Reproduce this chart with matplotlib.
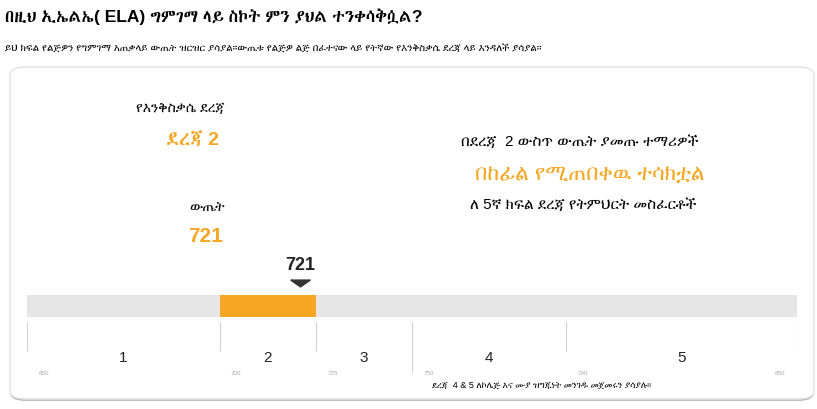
import matplotlib
matplotlib.use("Agg")
import matplotlib.pyplot as plt
from matplotlib.patches import FancyBboxPatch

plt.rcParams["font.family"] = ["Liberation Sans", "DejaVu Sans", "Noto Sans", "FreeSerif", "Abyssinica SIL"]

# data
cut_scores = [650, 700, 725, 750, 790, 850]
level_names = ["1", "2", "3", "4", "5"]
score = 721
student_level = 2

title = "በዚህ ኢኤልኤ( ELA) ግምገማ ላይ ስኮት ምን ያህል ተንቀሳቅሷል?"
subtitle = ("ይህ ክፍል የልጅዎን የግምገማ አጠቃላይ ውጤት ዝርዝር ያሳያል።ውጤቱ የልጅዎ ልጅ "
            "በፈተናው ላይ የትኛው የእንቅስቃሴ ደረጃ ላይ እንዳለች ያሳያል።")
level_label = "የእንቅስቃሴ ደረጃ"
level_value = "ደረጃ 2"
score_label = "ውጤት"
desc_top = "በደረጃ  2 ውስጥ ውጤት ያመጡ ተማሪዎች"
desc_mid = "በከፊል የሚጠበቀዉ ተሳክቷል"
desc_bot = "ለ 5ኛ ክፍል ደረጃ የትምህርት መስፈርቶች"
footnote = "ደረጃ  4 & 5 ለኮሌጅ እና ሙያ ዝግጁነት መንገዱ መጀመሩን ያሳያሉ።"

orange = "#F5A623"
W, H = 817, 410

fig = plt.figure(figsize=(W / 100, H / 100), dpi=100)


def fx(px):
    return px / W


def fy(py):
    return 1 - py / H


# card with a soft shadow at the bottom
shadow = FancyBboxPatch((fx(10), fy(402)), fx(804), fy(70) - fy(402),
                        boxstyle="round,pad=0,rounding_size=0.02",
                        transform=fig.transFigure, facecolor="#bdbdbd",
                        edgecolor="none", zorder=-6)
fig.patches.append(shadow)
card = FancyBboxPatch((fx(10), fy(400)), fx(804), fy(68) - fy(400),
                      boxstyle="round,pad=0,rounding_size=0.02",
                      transform=fig.transFigure, facecolor="white",
                      edgecolor="#e2e2e2", linewidth=1.0, zorder=-5)
fig.patches.append(card)

fig.text(fx(5), fy(17), title, fontsize=12.5, fontweight="bold", va="center", ha="left")
fig.text(fx(5), fy(48), subtitle, fontsize=7.3, va="center", ha="left")

fig.text(fx(180), fy(108), level_label, fontsize=10, ha="center", va="center")
fig.text(fx(192), fy(140), level_value, fontsize=14, fontweight="bold", color=orange,
         ha="center", va="center")
fig.text(fx(207), fy(207), score_label, fontsize=10, ha="center", va="center")
fig.text(fx(206), fy(237), str(score), fontsize=15, fontweight="bold", color=orange,
         ha="center", va="center")

fig.text(fx(580), fy(142), desc_top, fontsize=11, ha="center", va="center")
fig.text(fx(590), fy(174), desc_mid, fontsize=15.5, color=orange,
         ha="center", va="center")
fig.text(fx(583), fy(205), desc_bot, fontsize=11, ha="center", va="center")

# scale bar
ax = fig.add_axes([fx(27), fy(390), fx(770), fy(250) - fy(390)])
ax.set_xlim(cut_scores[0], cut_scores[-1])
ax.set_ylim(390, 250)
ax.axis("off")

ax.barh(307, cut_scores[-1] - cut_scores[0], left=cut_scores[0], height=22,
        color="#e5e5e5", edgecolor="none")
lo = cut_scores[student_level - 1]
hi = cut_scores[student_level]
ax.barh(307, hi - lo, left=lo, height=22, color=orange, edgecolor="none")

for i, c in enumerate(cut_scores):
    bottom = 373 if c == 750 else 352
    ax.vlines(c, 323, bottom, color="#d0d0d0", linewidth=0.8)
    if i == len(cut_scores) - 1:
        ax.text(c - 3, 374, str(c), fontsize=4.5, color="#aaaaaa", ha="right", va="center")
    else:
        ax.text(c + 3, 374, str(c), fontsize=4.5, color="#aaaaaa", ha="left", va="center")

for i, name in enumerate(level_names):
    mid = (cut_scores[i] + cut_scores[i + 1]) / 2
    ax.text(mid, 358, name, fontsize=11, ha="center", va="center", color="#222222")

# flat pointer triangle above the score
pointer = [(-1, 0.35), (1, 0.35), (0, -0.35), (-1, 0.35)]
ax.plot(score, 284, marker=pointer, markersize=14, color="#333333", clip_on=False)
ax.text(score, 266, str(score), fontsize=13, fontweight="bold", ha="center", va="center",
        color="#222222")

fig.text(fx(432), fy(385), footnote, fontsize=6.5, ha="left", va="center")

fig.savefig("out.png", dpi=100)
